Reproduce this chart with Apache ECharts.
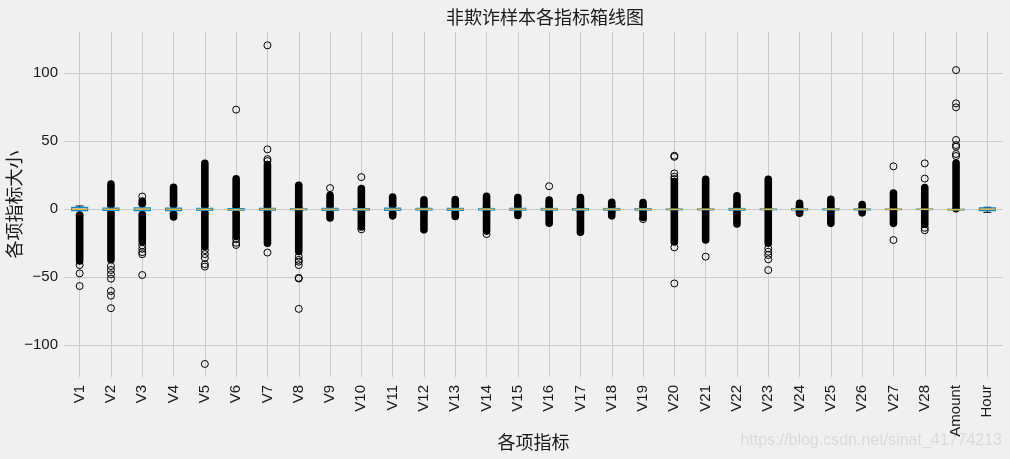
<!DOCTYPE html>
<html><head><meta charset="utf-8">
<script src="https://cdn.jsdelivr.net/npm/echarts@6/dist/echarts.min.js"></script>
<style>html,body{margin:0;padding:0;background:#f0f0f0}#c{width:1010px;height:459px}</style>
</head><body><div id="c"></div>
<script>
const categories = ['V1','V2','V3','V4','V5','V6','V7','V8','V9','V10','V11','V12','V13','V14','V15','V16','V17','V18','V19','V20','V21','V22','V23','V24','V25','V26','V27','V28','Amount','Hour'];
const whiskerLow  = [-4.27,-2.70,-3.77,-3.24,-2.65,-2.52,-2.24,-1.01,-2.50,-2.02,-3.01,-1.94,-2.62,-1.80,-2.43,-1.95,-1.81,-2.00,-1.83,-0.73,-0.85,-2.15,-0.63,-1.55,-1.32,-1.18,-0.31,-0.25,-0.35,-2.20];
const q1          = [-0.92,-0.60,-0.88,-0.85,-0.69,-0.77,-0.54,-0.21,-0.64,-0.53,-0.76,-0.40,-0.65,-0.42,-0.58,-0.47,-0.48,-0.50,-0.46,-0.21,-0.23,-0.54,-0.16,-0.35,-0.32,-0.33,-0.07,-0.05,-0.33,-0.95];
const median      = [0.02,0.06,0.18,-0.02,-0.05,-0.27,0.04,0.02,-0.05,-0.09,-0.03,0.14,-0.01,0.05,0.05,0.07,-0.07,0.00,0.00,-0.06,-0.03,0.01,-0.01,0.04,0.02,-0.05,0.00,0.01,-0.27,0.10];
const q3          = [1.32,0.80,1.03,0.74,0.61,0.40,0.57,0.33,0.60,0.45,0.74,0.62,0.66,0.49,0.65,0.52,0.40,0.50,0.46,0.13,0.19,0.53,0.15,0.44,0.35,0.24,0.09,0.08,-0.05,0.95];
const whiskerHigh = [2.45,2.91,3.90,3.13,2.57,2.15,2.26,1.13,2.46,1.94,2.99,2.15,2.63,1.87,2.50,2.01,1.73,2.00,1.83,0.65,0.81,2.13,0.61,1.63,1.35,1.09,0.33,0.27,0.39,1.50];
// dense stacks of outliers (thousands of overlapping circles): extreme value of each stack
const denseUpperTop    = [null,18.5,6.0,16.2,33.9,22.5,33.0,17.7,10.4,15.3,9.1,7.0,7.2,9.6,8.7,6.8,8.7,5.2,5.0,20.5,22.0,10.0,22.1,4.4,7.4,3.5,12.0,16.0,34.0,null];
const denseLowerBottom = [-38.0,-37.1,-24.0,-5.6,-27.5,-20.0,-25.0,-31.0,-6.3,-13.0,-4.8,-15.1,-5.3,-16.0,-4.5,-10.2,-16.8,-4.8,-6.0,-24.0,-22.5,-10.7,-25.0,-2.8,-10.3,-2.6,-10.3,-11.0,null,null];
// isolated outliers
const sparseOutliers = [
  [-41.0,-47.1,-56.4],
  [-41.7,-44.6,-47.8,-51.0,-60.1,-63.5,-72.7],
  [9.4,-26.5,-29.0,-31.5,-33.0,-48.3],
  [],
  [-30.0,-32.9,-35.7,-40.4,-42.1,-113.7],
  [73.3,-21.9,-24.6,-26.2],
  [35.5,36.9,44.1,120.6,-31.8],
  [-34.8,-37.2,-38.5,-41.0,-50.4,-50.9,-73.2],
  [15.6],
  [23.7,-14.7],
  [],
  [],
  [],
  [-18.2],
  [],
  [17.0],
  [],
  [],
  [-7.2],
  [22.3,24.0,26.4,38.6,39.4,-28.0,-54.5],
  [-34.8],
  [],
  [-28.7,-31.2,-33.6,-36.8,-44.7],
  [],
  [],
  [],
  [31.6,-22.6],
  [22.6,33.8,-13.6,-15.4],
  [39.2,40.7,46.0,47.3,51.0,75.0,77.9,102.4],
  []
];
const yMin = -123.3, yMax = 130.4;

const boxData = categories.map((c, i) => [i, whiskerLow[i], q1[i], median[i], q3[i], whiskerHigh[i]]);
const denseData = [];
categories.forEach((c, i) => {
  if (denseUpperTop[i] != null) denseData.push([i, whiskerHigh[i], denseUpperTop[i]]);
  if (denseLowerBottom[i] != null) denseData.push([i, whiskerLow[i], denseLowerBottom[i]]);
});
const sparseData = [];
sparseOutliers.forEach((arr, i) => arr.forEach(v => sparseData.push([i, v])));

const latin = "'Liberation Sans Narrow','Liberation Sans',sans-serif";
const cjk = "'Noto Sans CJK SC','Noto Sans',sans-serif";

const chart = echarts.init(document.getElementById('c'), null, {renderer: 'canvas'});
chart.setOption({
  backgroundColor: '#f0f0f0',
  animation: false,
  title: {
    text: '非欺诈样本各指标箱线图', left: 441, top: 3,
    textStyle: {fontFamily: cjk, fontSize: 18, fontWeight: 'normal', color: '#1a1a1a'}
  },
  grid: {left: 64, right: 7, top: 32, bottom: 82, containLabel: false, outerBoundsMode: 'none'},
  xAxis: {
    type: 'category', data: categories, boundaryGap: true,
    name: '各项指标', nameLocation: 'middle', nameGap: 56, nameMoveOverlap: false,
    nameTextStyle: {fontFamily: cjk, fontSize: 18, color: '#1a1a1a'},
    axisLine: {show: false}, axisTick: {show: false},
    axisLabel: {rotate: 90, interval: 0, margin: 8, fontSize: 15, fontFamily: latin, color: '#1a1a1a'},
    splitLine: {show: true, interval: 0, alignWithLabel: true, lineStyle: {color: '#cbcbcb', width: 1}}
  },
  yAxis: {
    type: 'value', min: yMin, max: yMax, splitNumber: 5,
    name: '各项指标大小', nameLocation: 'middle', nameGap: 41, nameMoveOverlap: false,
    nameTextStyle: {fontFamily: cjk, fontSize: 18, color: '#1a1a1a'},
    axisLine: {show: false}, axisTick: {show: false},
    axisLabel: {showMinLabel: false, showMaxLabel: false, margin: 6, fontSize: 15, fontFamily: latin, color: '#1a1a1a',
      formatter: v => (v < 0 ? '\u2212' + (-v) : String(v))},
    splitLine: {show: true, showMinLine: false, showMaxLine: false, lineStyle: {color: '#cbcbcb', width: 1}}
  },
  graphic: [{
    type: 'text', right: 8, top: 433, silent: true,
    style: {text: 'https://blog.csdn.net/sinat_41774213', fill: '#dadada', font: "16px 'Liberation Sans Narrow','Liberation Sans',sans-serif"}
  }],
  series: [
    {
      type: 'custom', name: 'dense outliers', data: denseData, z: 2,
      encode: {x: 0, y: [1, 2]},
      renderItem: (params, api) => {
        const x = api.value(0);
        const a = api.coord([x, api.value(1)]);
        const b = api.coord([x, api.value(2)]);
        const r = 3.8;
        const top = Math.min(a[1], b[1]) - r, h = Math.abs(a[1] - b[1]) + 2 * r;
        return {type: 'rect', shape: {x: a[0] - r, y: top, width: 2 * r, height: h, r: r}, style: {fill: '#000'}};
      }
    },
    {
      type: 'custom', name: 'box', data: boxData, z: 3,
      encode: {x: 0, y: [1, 2, 3, 4, 5]},
      renderItem: (params, api) => {
        const x = api.value(0);
        const lo = api.coord([x, api.value(1)]);
        const b1 = api.coord([x, api.value(2)]);
        const md = api.coord([x, api.value(3)]);
        const b3 = api.coord([x, api.value(4)]);
        const hi = api.coord([x, api.value(5)]);
        const band = api.size([1, 0])[0];
        const bw = band * 0.5, cw = band * 0.25, cx = lo[0];
        const blk = {stroke: '#000', lineWidth: 1};
        return {type: 'group', children: [
          {type: 'line', shape: {x1: cx, y1: b1[1], x2: cx, y2: lo[1]}, style: blk},
          {type: 'line', shape: {x1: cx, y1: b3[1], x2: cx, y2: hi[1]}, style: blk},
          {type: 'line', shape: {x1: cx - cw / 2, y1: lo[1], x2: cx + cw / 2, y2: lo[1]}, style: blk},
          {type: 'line', shape: {x1: cx - cw / 2, y1: hi[1], x2: cx + cw / 2, y2: hi[1]}, style: blk},
          {type: 'rect', shape: {x: cx - bw / 2, y: b3[1], width: bw, height: b1[1] - b3[1]}, style: {fill: 'none', stroke: '#008fd5', lineWidth: 1.5}},
          {type: 'line', shape: {x1: cx - bw / 2, y1: md[1], x2: cx + bw / 2, y2: md[1]}, style: {stroke: '#e5ae38', lineWidth: 1.5}}
        ]};
      }
    },
    {
      type: 'scatter', name: 'outliers', data: sparseData, z: 4,
      symbol: 'circle', symbolSize: 7,
      itemStyle: {color: 'rgba(0,0,0,0)', borderColor: '#000', borderWidth: 1, opacity: 1}
    }
  ]
});
</script></body></html>
